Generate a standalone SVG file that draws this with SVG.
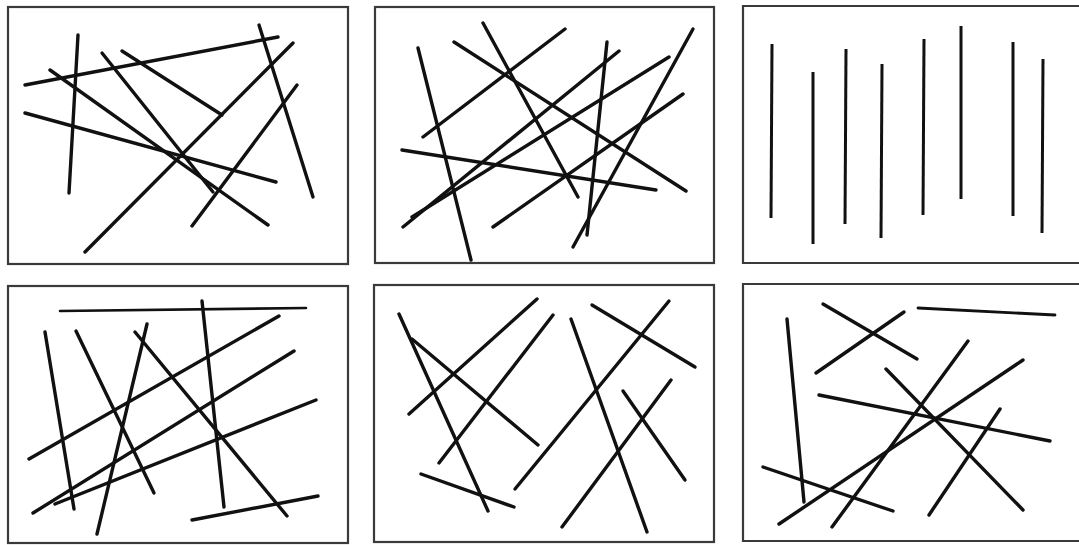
<svg xmlns="http://www.w3.org/2000/svg" width="1079" height="545" viewBox="0 0 1079 545">
<style>
.frame{fill:none;stroke:#3a3a3a;stroke-width:2.2}
.l{stroke:#111;stroke-width:3.4;stroke-linecap:round;fill:none}
.v{stroke:#111;stroke-width:3;stroke-linecap:butt;fill:none}
</style>
<rect width="1079" height="545" fill="#fff"/>
<g id="panel1">
<rect class="frame" x="8" y="7" width="340" height="257"/>
<line class="l" x1="78" y1="35" x2="69" y2="193"/>
<line class="l" x1="25" y1="85" x2="278" y2="37"/>
<line class="l" x1="50" y1="70" x2="268" y2="225"/>
<line class="l" x1="102" y1="53" x2="213" y2="192"/>
<line class="l" x1="122" y1="51" x2="222" y2="115"/>
<line class="l" x1="25" y1="113" x2="276" y2="182"/>
<line class="l" x1="85" y1="252" x2="293" y2="43"/>
<line class="l" x1="192" y1="226" x2="297" y2="85"/>
<line class="l" x1="259" y1="25" x2="313" y2="197"/>
</g>
<g id="panel2">
<rect class="frame" x="375" y="7" width="339" height="256"/>
<line class="l" x1="418" y1="48" x2="471" y2="260"/>
<line class="l" x1="483" y1="23" x2="578" y2="197"/>
<line class="l" x1="423" y1="137" x2="565" y2="29"/>
<line class="l" x1="454" y1="42" x2="686" y2="191"/>
<line class="l" x1="402" y1="150" x2="656" y2="190"/>
<line class="l" x1="403" y1="227" x2="619" y2="51"/>
<line class="l" x1="412" y1="217" x2="669" y2="57"/>
<line class="l" x1="607" y1="42" x2="587" y2="235"/>
<line class="l" x1="493" y1="227" x2="683" y2="94"/>
<line class="l" x1="573" y1="247" x2="693" y2="29"/>
</g>
<g id="panel3">
<path class="frame" d="M1082 6 H743 V263 H1082"/>
<line class="v" x1="772" y1="44" x2="771" y2="218"/>
<line class="v" x1="813" y1="72" x2="813" y2="244"/>
<line class="v" x1="846" y1="49" x2="845" y2="224"/>
<line class="v" x1="882" y1="64" x2="881" y2="238"/>
<line class="v" x1="924" y1="39" x2="923" y2="215"/>
<line class="v" x1="961" y1="26" x2="961" y2="199"/>
<line class="v" x1="1013" y1="42" x2="1013" y2="216"/>
<line class="v" x1="1043" y1="59" x2="1042" y2="233"/>
</g>
<g id="panel4">
<rect class="frame" x="8" y="286" width="340" height="257"/>
<line class="l" x1="60" y1="311" x2="306" y2="308" style="stroke-width:2.6"/>
<line class="l" x1="45" y1="332" x2="74" y2="509"/>
<line class="l" x1="76" y1="331" x2="154" y2="493"/>
<line class="l" x1="147" y1="324" x2="97" y2="534"/>
<line class="l" x1="135" y1="332" x2="287" y2="516"/>
<line class="l" x1="202" y1="301" x2="224" y2="507"/>
<line class="l" x1="29" y1="459" x2="279" y2="316"/>
<line class="l" x1="33" y1="513" x2="294" y2="351"/>
<line class="l" x1="55" y1="504" x2="316" y2="400"/>
<line class="l" x1="192" y1="520" x2="318" y2="496"/>
</g>
<g id="panel5">
<rect class="frame" x="374" y="285" width="340" height="257"/>
<line class="l" x1="399" y1="314" x2="488" y2="511"/>
<line class="l" x1="412" y1="339" x2="538" y2="445"/>
<line class="l" x1="409" y1="414" x2="537" y2="299"/>
<line class="l" x1="439" y1="463" x2="553" y2="315"/>
<line class="l" x1="421" y1="474" x2="514" y2="507"/>
<line class="l" x1="515" y1="489" x2="669" y2="301"/>
<line class="l" x1="571" y1="319" x2="647" y2="532"/>
<line class="l" x1="592" y1="305" x2="695" y2="367"/>
<line class="l" x1="562" y1="527" x2="671" y2="380"/>
<line class="l" x1="623" y1="391" x2="685" y2="480"/>
</g>
<g id="panel6">
<path class="frame" d="M1082 284 H743 V541 H1082"/>
<line class="l" x1="787" y1="319" x2="804" y2="502"/>
<line class="l" x1="823" y1="304" x2="917" y2="359"/>
<line class="l" x1="816" y1="373" x2="904" y2="312"/>
<line class="l" x1="918" y1="308" x2="1055" y2="315" style="stroke-width:2.8"/>
<line class="l" x1="886" y1="369" x2="1023" y2="510"/>
<line class="l" x1="819" y1="395" x2="1050" y2="441"/>
<line class="l" x1="832" y1="527" x2="968" y2="341"/>
<line class="l" x1="779" y1="524" x2="1023" y2="360"/>
<line class="l" x1="763" y1="467" x2="893" y2="511"/>
<line class="l" x1="929" y1="515" x2="1000" y2="409"/>
</g>
</svg>
